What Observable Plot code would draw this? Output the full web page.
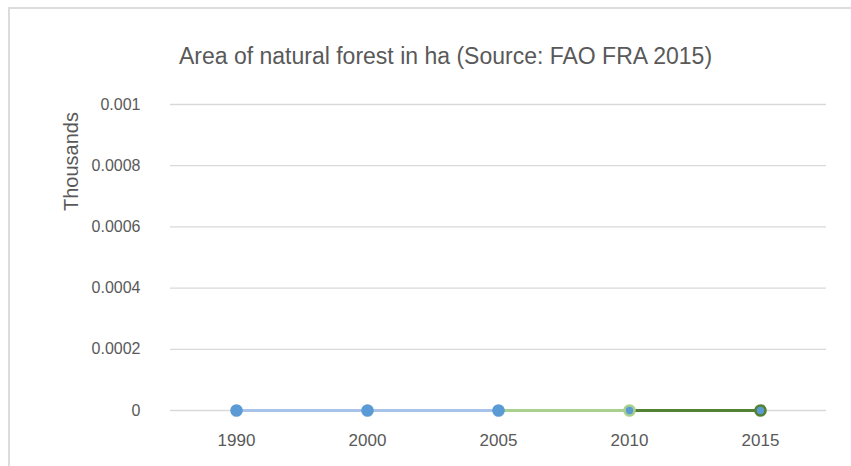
<!DOCTYPE html>
<html>
<head>
<meta charset="utf-8">
<script src="https://cdn.jsdelivr.net/npm/d3@7"></script>
<script src="https://cdn.jsdelivr.net/npm/@observablehq/plot@0.6"></script>
<style>
  html, body { margin: 0; padding: 0; background: #fff; }
  #wrap { position: relative; width: 851px; height: 466px; overflow: hidden; }
  #frame { position: absolute; left: 8px; top: 7px; width: 900px; height: 500px;
           border-left: 2px solid #dcdcdc; border-top: 2px solid #dcdcdc; }
  #chart { position: absolute; left: 0; top: 0; }
</style>
</head>
<body>
<div id="wrap"><div id="frame"></div><div id="chart"></div></div>
<script>
const years = ["1990", "2000", "2005", "2010", "2015"];
const values = [0, 0, 0, 0, 0]; // thousands of ha
const yTicks = [0, 0.0002, 0.0004, 0.0006, 0.0008, 0.001];
const yTickLabels = ["0", "0.0002", "0.0004", "0.0006", "0.0008", "0.001"];
const segments = [
  {years: ["1990", "2000", "2005"], color: "#a9c4eb"},
  {years: ["2005", "2010"], color: "#a9d18e"},
  {years: ["2010", "2015"], color: "#548235"}
];
const pointStroke = ["#5b9bd5", "#5b9bd5", "#5b9bd5", "#a9d18e", "#548235"];
const pointRadius = [6.3, 6.3, 6.3, 5, 5];
const pointStrokeWidth = [0, 0, 0, 2.6, 2.6];
const title = "Area of natural forest in ha (Source: FAO FRA 2015)";
const yLabel = "Thousands";

const valueOf = Object.fromEntries(years.map((y, i) => [y, values[i]]));
const lineRows = segments.flatMap((s, k) => s.years.map(y => ({year: y, value: valueOf[y], seg: k, color: s.color})));
const pointRows = years.map((y, i) => ({year: y, value: values[i], stroke: pointStroke[i], r: pointRadius[i], sw: pointStrokeWidth[i]}));

const font = "'Liberation Sans', Arial, sans-serif";
const plot = Plot.plot({
  width: 851,
  height: 466,
  marginTop: 104,
  marginBottom: 56,
  marginLeft: 170,
  marginRight: 25,
  style: {fontFamily: font, fontSize: "16px", color: "#595959", background: "transparent"},
  x: {type: "point", domain: years, padding: 0.5, label: null},
  y: {domain: [0, 0.001], label: null},
  r: {type: "identity"},
  marks: [
    Plot.ruleY(yTicks, {stroke: "#d9d9d9", strokeWidth: 1.3}),
    Plot.axisY({ticks: yTicks, tickFormat: d => yTickLabels[yTicks.indexOf(d)], tickSize: 0, tickPadding: 30, label: null, fill: "#595959", fontSize: 16}),
    Plot.axisX({tickSize: 0, tickPadding: 23, label: null, fill: "#595959", fontSize: 17}),
    Plot.line(lineRows, {x: "year", y: "value", z: "seg", stroke: "color", strokeWidth: 3.2}),
    Plot.dot(pointRows, {x: "year", y: "value", r: "r", fill: "#5b9bd5", stroke: "stroke", strokeWidth: "sw"}),
    Plot.text([title], {frameAnchor: "top-left", dx: 445 - 170, dy: -57, fontSize: 23, fill: "#595959", textAnchor: "middle"}),
    Plot.text([yLabel], {frameAnchor: "top-left", dx: 63 - 170, dy: 57, rotate: -90, fontSize: 20, fill: "#595959", textAnchor: "middle"})
  ]
});
document.getElementById("chart").appendChild(plot);
</script>
</body>
</html>
